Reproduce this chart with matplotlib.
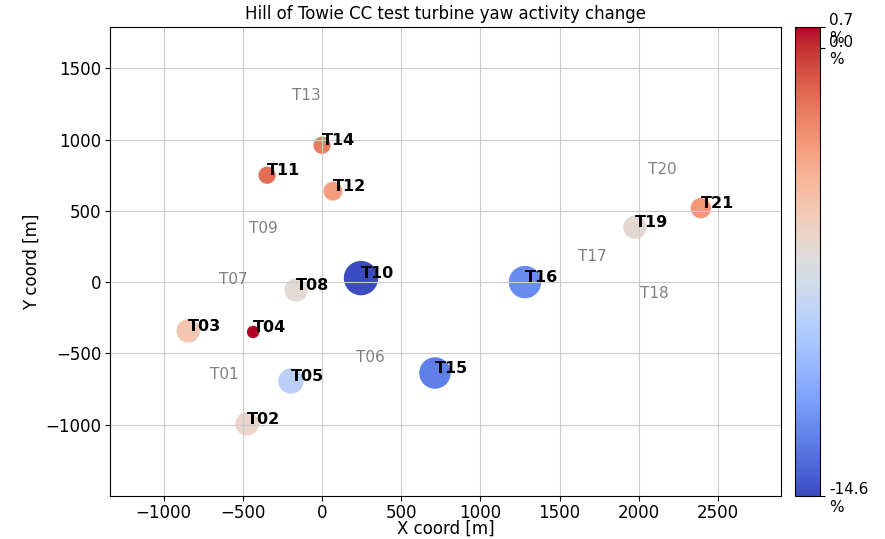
import matplotlib.pyplot as plt
import numpy as np

# active turbines (CC test)
names = ['T02', 'T03', 'T04', 'T05', 'T08', 'T10', 'T11', 'T12',
         'T14', 'T15', 'T16', 'T19', 'T21']
xs = [-473, -845, -435, -196, -164, 246, -347, 69, 0, 713, 1281, 1975, 2391]
ys = [-995, -343, -350, -694, -56, 28, 750, 638, 960, -638, 0, 385, 519]
change = [-6.2, -5.1, 0.7, -8.8, -6.6, -14.6, -1.6, -3.3, -2.1, -12.8,
          -12.3, -6.5, -3.1]
areas = [250, 250, 63, 300, 250, 565, 130, 160, 130, 470, 500, 250, 187]

# other turbines
other_names = ['T01', 'T06', 'T07', 'T09', 'T13', 'T17', 'T18', 'T20']
other_x = [-707, 214, -650, -460, -189, 1615, 2006, 2057]
other_y = [-680, -560, -14, 343, 1275, 147, -112, 757]

vmin, vmax = -14.6, 0.7


def main():
    fig = plt.figure(figsize=(8.85, 5.39), dpi=100)
    ax = fig.add_axes([0.124, 0.080, 0.759, 0.870])
    cax = fig.add_axes([0.898, 0.080, 0.028, 0.870])

    sc = ax.scatter(xs, ys, c=change, s=areas, cmap='coolwarm',
                    vmin=vmin, vmax=vmax)
    for n, x, y in zip(names, xs, ys):
        ax.text(x, y, n, fontsize=11.5, fontweight='bold', color='black')
    for n, x, y in zip(other_names, other_x, other_y):
        ax.text(x, y, n, fontsize=11, color='gray')

    ax.set_xlim(-1340, 2900)
    ax.set_ylim(-1500, 1790)
    ax.set_xticks(np.arange(-1000, 2501, 500))
    ax.set_yticks(np.arange(-1000, 1501, 500))
    ax.tick_params(labelsize=12)
    ax.tick_params(axis='x', pad=2)
    ax.tick_params(axis='y', pad=2.5)
    ax.grid(color='#cccccc')
    ax.set_xlabel('X coord [m]', fontsize=12, labelpad=-1)
    ax.set_ylabel('Y coord [m]', fontsize=12, labelpad=3)
    ax.set_title('Hill of Towie CC test turbine yaw activity change',
                 fontsize=12)

    cb = fig.colorbar(sc, cax=cax)
    ticks = [vmin, 0.0, vmax]
    cb.set_ticks(ticks)
    cb.set_ticklabels([f'{t:.1f}\n%' for t in ticks])
    cb.ax.tick_params(labelsize=11)

    fig.savefig('out.png', dpi=100)


if __name__ == '__main__':
    main()
